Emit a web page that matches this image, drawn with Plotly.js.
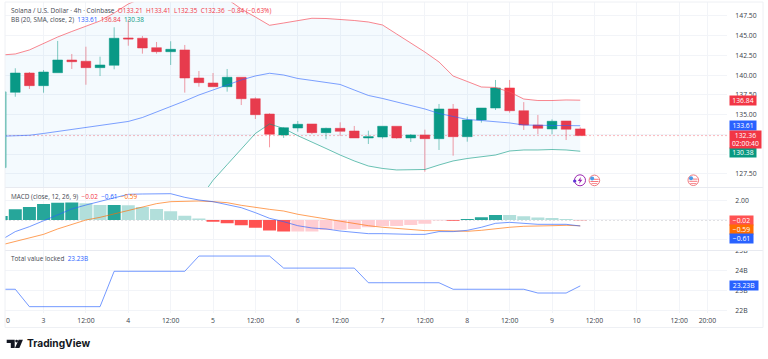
<!DOCTYPE html>
<html><head><meta charset="utf-8">
<script src="https://cdn.plot.ly/plotly-3.0.0.min.js"></script>
<style>html,body{margin:0;padding:0;background:#fff}#c{width:768px;height:359px}</style>
</head><body><div id="c"></div>
<script>
const opens  = [128.3,137.84,140.28,138.68,140.32,141.93,141.77,140.96,141.26,144.72,144.68,143.49,142.98,143.2,139.65,139.02,138.55,139.74,137.03,135.09,132.44,133.32,133.83,132.73,133.28,132.94,132.06,132.18,133.54,132.06,132.44,131.97,135.73,132.22,134.34,135.85,138.39,135.51,133.7,133.2,134.21,133.21];
const highs  = [138,140.88,140.41,140.66,144.34,142.69,143.61,142.35,146.07,147,144.97,144.21,144.3,143.83,140.54,140.28,140.79,139.74,137.2,135.18,133.45,134.21,133.83,133.36,134.04,133.58,132.98,133.54,133.54,132.56,133.11,136.36,136.36,134.75,135.85,139.4,139.4,136.6,134.97,134.42,134.21,133.41];
const lows   = [128,137.28,138.26,137.79,140.32,140.79,138.8,139.9,140.75,143.74,142.73,142.73,141.3,137.8,138.55,138.55,137.92,136.23,134.46,130.88,132.06,132.85,132.56,131.9,132.31,132.06,131.3,131.97,131.97,131.55,127.79,130.54,129.82,131.59,134,135.6,135.26,133.07,132.53,132.53,131.8,132.35];
const closes = [137.9,140.28,138.68,140.41,141.93,141.71,140.96,141.3,144.68,144.59,143.45,142.98,143.28,139.65,139.06,138.55,139.74,137.03,135.01,132.53,133.36,133.79,132.73,133.28,132.9,132.06,132.22,133.54,132.06,132.44,131.97,135.73,132.22,134.34,135.85,138.39,135.51,133.7,133.28,134.17,133.16,132.36];
const bbUpper = [142.56,142.69,143.2,144.02,144.84,145.54,146.17,146.87,147.88,149.02,149.78,150.54,150.79,151.04,150.79,150.03,149.65,148.39,147.37,146.32,146.61,146.87,147.21,147.18,147.08,146.93,146.74,146.36,145.22,144.08,142.94,141.68,139.9,139.21,138.51,138.45,137.88,136.99,136.8,136.8,136.87,136.84];
const bbBasis = [132.28,132.31,132.4,132.63,132.88,133.13,133.39,133.58,133.83,134.15,134.65,135.35,135.98,136.74,137.5,138.13,138.77,139.4,139.91,140.25,140.03,139.59,139.34,139.08,138.83,138.13,137.44,137.06,136.61,136.23,135.73,135.16,134.78,134.4,134.27,134.15,133.96,133.7,133.64,133.64,133.63,133.61];
const bbLower = [122,121.93,121.6,121.24,120.92,120.72,120.61,120.29,119.78,119.28,119.52,120.16,121.17,122.44,124.21,126.7,128.68,130.66,132.63,133.83,133.26,132.35,131.49,130.73,129.9,129.15,128.51,128.2,128.01,128.01,128.07,128.64,129.15,129.46,129.65,129.9,130.41,130.54,130.54,130.6,130.54,130.38];
const macdHist = [0.41,1.08,1.32,1.62,1.76,1.77,1.69,1.52,1.53,1.5,1.32,1.12,0.88,0.44,0.14,-0.17,-0.34,-0.54,-0.78,-1.08,-1.18,-1.17,-1.16,-1.01,-1,-0.91,-0.74,-0.64,-0.61,-0.51,-0.37,-0.05,-0.07,0.1,0.27,0.51,0.5,0.37,0.24,0.2,0.1,-0.02];
const macdLine = [-2.03,-1.18,-0.68,-0.07,0.51,1.12,1.52,1.86,2.2,2.61,2.64,2.67,2.67,2.3,2.03,1.86,1.59,1.25,0.74,0.17,-0.17,-0.58,-0.81,-0.91,-1.12,-1.29,-1.39,-1.39,-1.46,-1.46,-1.46,-1.18,-1.18,-1.05,-0.74,-0.34,-0.24,-0.37,-0.44,-0.44,-0.44,-0.61];
const macdSignal = [-2.54,-2.2,-1.83,-1.46,-0.91,-0.44,0,0.27,0.61,0.91,1.32,1.66,1.86,1.93,1.93,1.86,1.76,1.49,1.25,1.08,0.91,0.58,0.34,0.1,-0.1,-0.34,-0.58,-0.74,-0.85,-0.98,-1.08,-1.08,-1.15,-1.15,-1.05,-0.88,-0.74,-0.64,-0.58,-0.58,-0.54,-0.59];
const tvl = [23.06,23.06,22.18,22.18,22.18,22.18,22.18,22.18,23.97,23.97,23.97,23.97,23.97,23.97,24.74,24.74,24.74,24.74,24.74,24.74,24.13,24.13,24.13,24.13,24.13,24.13,23.39,23.39,23.39,23.39,23.39,23.39,23.06,23.06,23.06,23.06,23.06,23.06,22.87,22.87,22.87,23.23];
const timeTickPos = [2,5,8,11,14,17,20,23,26,29,32,35,38,41,44,47,49];
const timeTickText = ['3','12:00','4','12:00','5','12:00','6','12:00','7','12:00','8','12:00','9','12:00','10','12:00','20:00'];
const priceTicks = [127.5,130,132.5,135,137.5,140,142.5,145,147.5];
const priceTickText = ['127.50','','','135.00','137.50','140.00','142.50','145.00','147.50'];
const macdTicks = [-2,0,2];
const macdTickText = ['','','2.00'];
const tvlTicks = [22,23,24,25];
const tvlTickText = ['22B','23B','24B','25B'];

const idx = opens.map((_, k) => k - 1);
const UP='#089981', DOWN='#F23645', BLUE='#2962FF', ORANGE='#FF6D00', FONT='"Open Sans", sans-serif';
const L=5,T=2,W=722,H=311;
const px = x => (x-L)/W, py = y => 1-(y-T)/H;
const barColors = macdHist.map((h,k)=>{
  const p = k? macdHist[k-1] : h-1;
  if(h>=0) return h>=p ? '#26a69a' : '#b2dfdb';
  return h<p ? '#ff5252' : '#ffcdd2';
});
const line=(y,color,ya,name,w)=>({type:'scatter',mode:'lines',x:idx,y,xaxis:'x',yaxis:ya,name,hoverinfo:'skip',line:{color,width:w||1}});

const traces=[
  line(bbUpper,'rgba(247,82,95,0.7)','y','upper'),
  Object.assign(line(bbLower,'rgba(8,153,129,0.6)','y','lower'),{fill:'tonexty',fillcolor:'rgba(33,150,243,0.05)'}),
  line(bbBasis,'rgba(41,98,255,0.6)','y','basis'),
  {type:'candlestick',x:idx,open:opens,high:highs,low:lows,close:closes,xaxis:'x',yaxis:'y',whiskerwidth:0,hoverinfo:'skip',
   increasing:{fillcolor:UP,line:{color:'rgba(8,153,129,0.5)',width:1}},
   decreasing:{fillcolor:DOWN,line:{color:'rgba(242,54,69,0.5)',width:1}}},
  {type:'bar',x:idx,y:macdHist,xaxis:'x',yaxis:'y2',width:0.92,marker:{color:barColors,line:{width:0}},hoverinfo:'skip'},
  line(macdSignal,'rgba(255,109,0,0.65)','y2','signal'),
  line(macdLine,'rgba(41,98,255,0.65)','y2','macd'),
  line(tvl,'rgba(41,98,255,0.65)','y3','tvl')
];

const grid='#f2f4f8', tickFont={family:FONT,size:6.8,color:'#3a3e49'};
const yBase={side:'right',anchor:'x',showgrid:true,gridcolor:grid,gridwidth:1,zeroline:false,showline:false,ticks:'outside',ticklen:6,tickcolor:'rgba(0,0,0,0)',tickfont:tickFont,fixedrange:true};

const span=(c,t)=>`<span style="color:${c}">${t}</span>`;
const sized=(s,t)=>`<span style="font-size:${s}px">${t}</span>`;
const gap='\u00a0\u00a0';
const note=(px0,py0,text,extra)=>Object.assign({xref:'paper',yref:'paper',x:px(px0),y:py(py0),text,showarrow:false,xanchor:'left',yanchor:'middle',font:{family:FONT,size:6.4,color:'#434750'}},extra||{});
const badge=(ya,val,text,bg,w,h,shift)=>({xref:'paper',yref:ya,x:px(729),y:val,yshift:shift||0,text,showarrow:false,xanchor:'left',yanchor:'middle',align:'center',bgcolor:bg,width:w,height:h,borderpad:0,font:{family:FONT,size:6.8,color:'#fff'}});

const annotations=[
  note(8.5,10.5,`${sized(6.5,'Solana / U.S. Dollar · 4h · Coinbase')}${gap}${span(DOWN,['O133.21','H133.41','L132.35','C132.36','−0.84 (−0.63%)'].join(gap))}`),
  note(8.5,19.5,`BB (20, SMA, close, 2)${gap}${span(BLUE,'133.61')}${gap}${span(DOWN,'136.84')}${gap}${span(UP,'130.38')}`),
  note(8.5,196,`MACD (close, 12, 26, 9)${gap}${span(DOWN,'−0.02')}${gap}${span(BLUE,'−0.61')}${gap}${span(ORANGE,'−0.59')}`),
  note(8.5,258.5,`Total value locked${gap}${span(BLUE,'23.23B')}`),
  note(3.5,320,'0',{font:tickFont}),
  note(24.5,343.6,'<b>TradingView</b>',{font:{family:'Inter, sans-serif',size:10.2,color:'#131722'}}),
  badge('y',136.84,'136.84',DOWN,26,9),
  badge('y',133.61,'133.61',BLUE,26,9),
  badge('y',130.38,'130.38',UP,26,9,-1),
  badge('y',132.36,'132.36<br>02:00:40',DOWN,31,17,-4),
  badge('y2',-0.02,'−0.02','#ff5252',23,9),
  badge('y2',-0.59,'−0.59',ORANGE,23,9,-3.7),
  badge('y2',-0.61,'−0.61',BLUE,23,9,-12.5),
  badge('y3',23.23,'23.23B',BLUE,28,9,0.5)
];

const rectPx=(x0,y0,x1,y1,o)=>Object.assign({type:'rect',xref:'paper',yref:'paper',x0:px(x0),x1:px(x1),y0:py(y0),y1:py(y1),line:{width:0}},o);
const hPx=(x0,x1,y,color)=>({type:'line',xref:'paper',yref:'paper',x0:px(x0),x1:px(x1),y0:py(y),y1:py(y),line:{color,width:1}});
const pathPx=(pts,fill)=>({type:'path',xref:'paper',yref:'paper',path:'M'+pts.map(p=>px(p[0])+','+py(p[1])).join(' L')+' Z',fillcolor:fill,line:{width:0}});
const flag=(cx,cy)=>[
  rectPx(cx-5.3,cy-5.3,cx+5.3,cy+5.3,{type:'circle',fillcolor:'#fff',line:{color:'#f07a80',width:1}}),
  rectPx(cx-4,cy+0.6,cx+4,cy+1.6,{fillcolor:'#f7767d'}),
  rectPx(cx-3,cy+2.8,cx+3,cy+3.6,{fillcolor:'#f7767d'}),
  rectPx(cx-0.5,cy-1.6,cx+4.3,cy-0.6,{fillcolor:'#f7767d'}),
  rectPx(cx-4.3,cy-4,cx-0.2,cy,{type:'circle',fillcolor:'#4c9be8'})
];

const shapes=[
  {type:'line',xref:'paper',yref:'y',x0:0,x1:1,y0:132.36,y1:132.36,layer:'below',line:{color:'rgba(242,54,69,0.35)',width:1,dash:'2px,2px'}},
  {type:'line',xref:'paper',yref:'y2',x0:0,x1:1,y0:0,y1:0,layer:'below',line:{color:'rgba(120,123,134,0.45)',width:1,dash:'2px,2px'}},
  rectPx(727.5,243,762.5,250,{fillcolor:'#fff'}),
  hPx(5,763,187.5,'#e8eaf0'),
  hPx(5,763,250.5,'#e8eaf0'),
  rectPx(5,2,763,327.5,{fillcolor:'rgba(0,0,0,0)',line:{color:'#eef0f4',width:1}}),
  rectPx(574.5,174.8,585.5,185.8,{type:'circle',fillcolor:'#fff',line:{color:'#9c27b0',width:1}}),
  pathPx([[580.8,177],[577.8,181],[579.8,181],[579,184],[582.4,179.8],[580.4,179.8]],'#9c27b0'),
  rectPx(573,179.5,576.4,182.5,{type:'circle',fillcolor:'#5e35d6'}),
  ...flag(594.4,180.4),
  ...flag(693.3,180.2),
  pathPx([[6.7,339.7],[14.7,339.7],[14.7,348],[10.8,348],[10.8,343],[6.7,343]],'#131722'),
  rectPx(15.2,339.7,18,342.5,{type:'circle',fillcolor:'#131722'}),
  pathPx([[18.6,339.7],[22.9,339.7],[19.4,348],[15,348]],'#131722')
];

const layout={
  width:768,height:359,showlegend:false,paper_bgcolor:'#fff',plot_bgcolor:'#fff',
  margin:{l:L,r:41,t:T,b:46,pad:0},dragmode:false,barmode:'overlay',boxgap:0.17,boxgroupgap:0.17,
  xaxis:{anchor:'y3',domain:[0,1],range:[-0.729,50.39],rangeslider:{visible:false},showgrid:true,gridcolor:grid,zeroline:false,showline:false,
    tickmode:'array',tickvals:timeTickPos,ticktext:timeTickText,ticks:'outside',ticklen:1,tickcolor:'rgba(0,0,0,0)',tickfont:tickFont,tickangle:0,fixedrange:true},
  yaxis:Object.assign({},yBase,{domain:[0.40354,1],range:[125.79,149.27],tickmode:'array',tickvals:priceTicks,ticktext:priceTickText}),
  yaxis2:Object.assign({},yBase,{domain:[0.20096,0.40354],range:[-3.1,3.3],tickmode:'array',tickvals:macdTicks,ticktext:macdTickText}),
  yaxis3:Object.assign({},yBase,{domain:[0,0.20096],range:[21.86,25.02],tickmode:'array',tickvals:tvlTicks,ticktext:tvlTickText}),
  annotations,shapes
};
Plotly.newPlot('c',traces,layout,{displayModeBar:false,staticPlot:true});
</script></body></html>
